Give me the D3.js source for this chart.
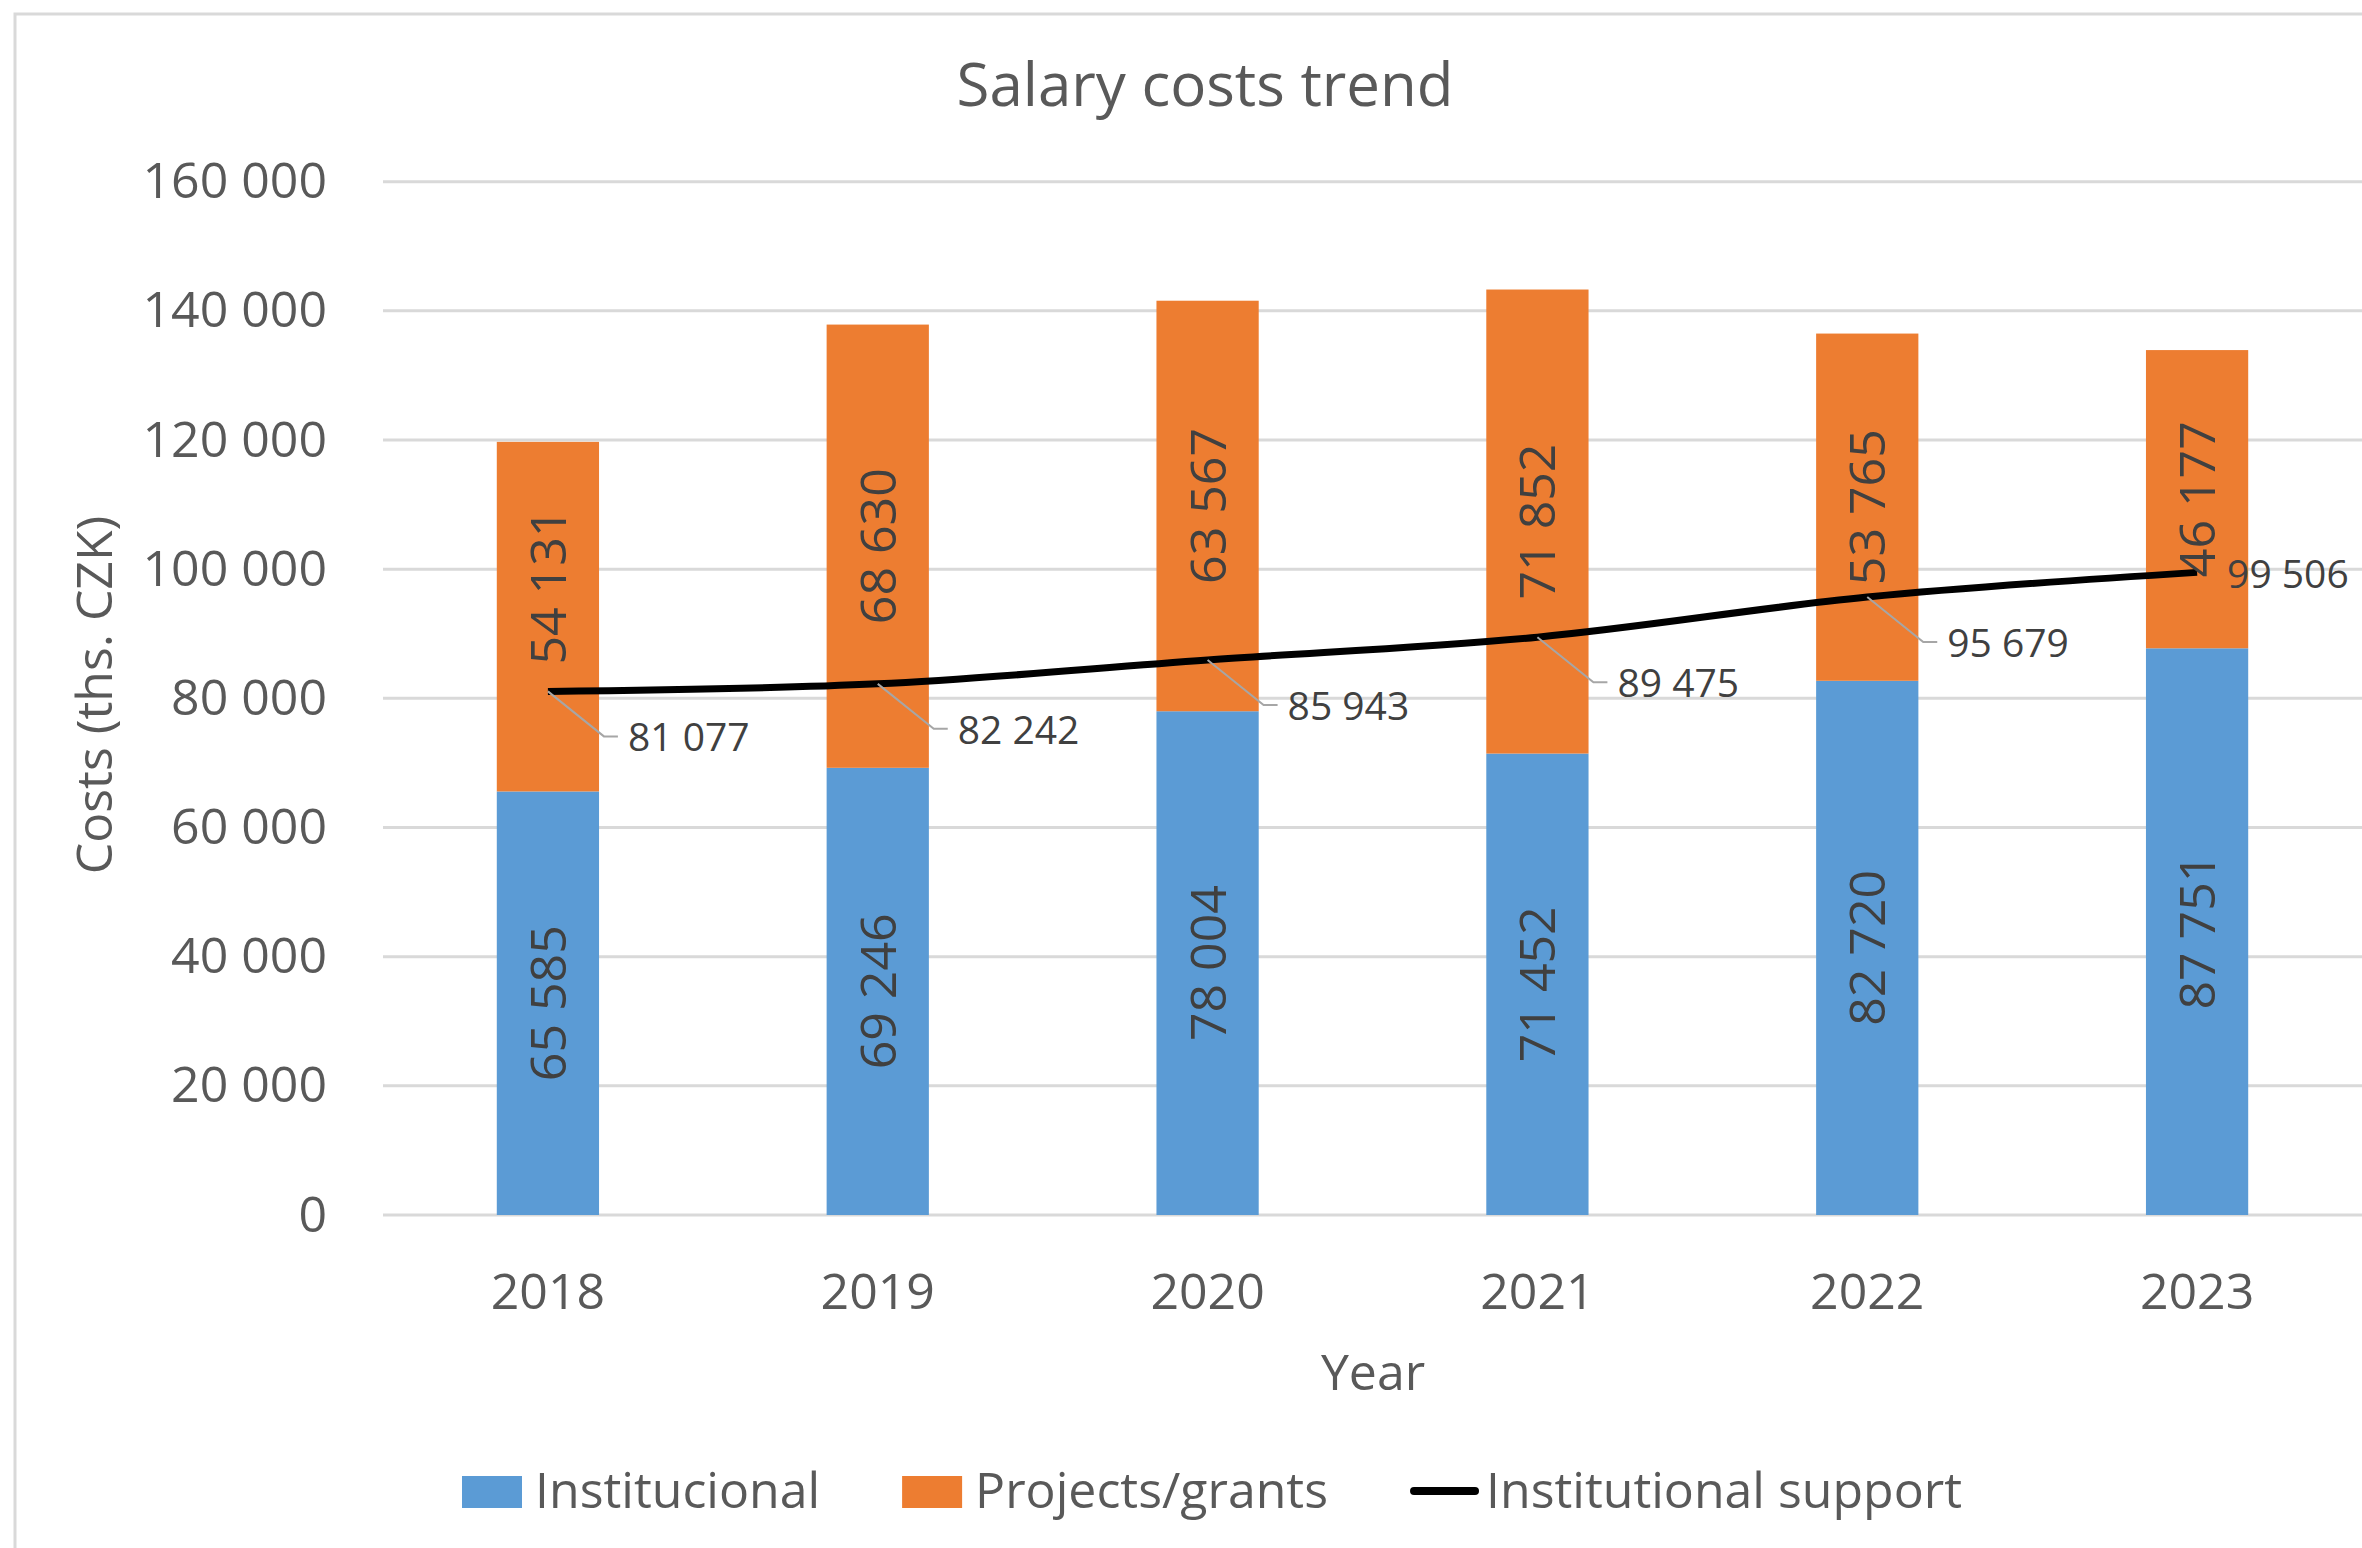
<!DOCTYPE html>
<html>
<head>
<meta charset="utf-8">
<script src="https://cdn.jsdelivr.net/npm/d3@7"></script>
<style>
  body { margin: 0; background: #fff; }
  text { font-family: "Open Sans", "Noto Sans", sans-serif; }
</style>
</head>
<body>
<div class="chart"></div>
<script>
const years = ["2018", "2019", "2020", "2021", "2022", "2023"];
const institucional = [65585, 69246, 78004, 71452, 82720, 87751];
const projects = [54131, 68630, 63567, 71852, 53765, 46177];
const support = [81077, 82242, 85943, 89475, 95679, 99506];
const y_ticks = [0, 20000, 40000, 60000, 80000, 100000, 120000, 140000, 160000];

// the 2018 projects label was moved up a bit in the original
const proj_label_nudge = [-30, 0, 0, 0, 0, 0];

const width = 2362;
const height = 1548;
const blue = "#5b9bd5";
const orange = "#ed7d31";
const grey_text = "#595959";
const label_text = "#404040";

const svg = d3.select(".chart").append("svg")
    .attr("width", width)
    .attr("height", height);

// chart frame
svg.append("rect")
    .attr("x", 15).attr("y", 14)
    .attr("width", 2500).attr("height", 1700)
    .attr("fill", "#fff")
    .attr("stroke", "#d9d9d9")
    .attr("stroke-width", 3);

const locale = d3.formatLocale({decimal: ",", thousands: " ", grouping: [3], currency: ["", ""]});
const fmt = locale.format(",d");

const x_scale = d3.scaleBand().domain(years).range([383, 2362]).paddingInner(0.69).paddingOuter(0.345);
const y_scale = d3.scaleLinear().domain([0, 160000]).range([1215, 181.7]);

// gridlines
svg.append("g").selectAll("line")
    .data(y_ticks)
    .join("line")
    .attr("x1", 383).attr("x2", width)
    .attr("y1", d => y_scale(d)).attr("y2", d => y_scale(d))
    .attr("stroke", "#d9d9d9")
    .attr("stroke-width", 3);

// y axis labels
const y_axis = svg.append("g")
    .attr("transform", "translate(340,0)")
    .call(d3.axisLeft(y_scale).tickValues(y_ticks).tickFormat(fmt).tickSize(0).tickPadding(13));
y_axis.select(".domain").remove();
y_axis.selectAll("text")
    .attr("font-size", 50)
    .attr("fill", grey_text)
    .attr("font-family", "Open Sans");

// x axis labels
const x_axis = svg.append("g")
    .attr("transform", "translate(0,1215)")
    .call(d3.axisBottom(x_scale).tickSize(0).tickPadding(58));
x_axis.select(".domain").remove();
x_axis.selectAll("text")
    .attr("font-size", 50)
    .attr("fill", grey_text)
    .attr("font-family", "Open Sans");

// stacked bars
const rows = years.map((y, i) => ({year: y, inst: institucional[i], proj: projects[i]}));
const stack = d3.stack().keys(["inst", "proj"])(rows);
const colors = {inst: blue, proj: orange};

const layers = svg.append("g").selectAll("g")
    .data(stack)
    .join("g")
    .attr("fill", d => colors[d.key]);

layers.selectAll("rect")
    .data(d => d)
    .join("rect")
    .attr("x", d => x_scale(d.data.year))
    .attr("width", x_scale.bandwidth())
    .attr("y", d => y_scale(d[1]))
    .attr("height", d => y_scale(d[0]) - y_scale(d[1]));

// line
const pts = years.map((y, i) => ({year: y, value: support[i]}));
const line = d3.line()
    .x(d => x_scale(d.year) + x_scale.bandwidth() / 2)
    .y(d => y_scale(d.value))
    .curve(d3.curveCardinal.tension(0));

svg.append("path")
    .datum(pts)
    .attr("d", line)
    .attr("fill", "none")
    .attr("stroke", "#000")
    .attr("stroke-width", 7)
    .attr("stroke-linejoin", "round");

// line labels with leader lines
const last = years.length - 1;
const leader = svg.append("g");
pts.forEach((d, i) => {
    const px = x_scale(d.year) + x_scale.bandwidth() / 2;
    const py = y_scale(d.value);
    if (i < last) {
        leader.append("polyline")
            .attr("points", [[px, py], [px + 56, py + 45], [px + 70, py + 45]].join(" "))
            .attr("fill", "none")
            .attr("stroke", "#a6a6a6")
            .attr("stroke-width", 2);
        leader.append("text")
            .attr("x", px + 80).attr("y", py + 46)
            .attr("dy", "0.36em")
            .attr("font-size", 39)
            .attr("fill", label_text)
            .text(fmt(d.value));
    } else {
        leader.append("text")
            .attr("x", px + 30).attr("y", py + 2)
            .attr("dy", "0.36em")
            .attr("font-size", 39)
            .attr("fill", label_text)
            .text(fmt(d.value));
    }
});

// bar labels (rotated)
stack.forEach(layer => {
    svg.append("g").selectAll("text")
        .data(layer)
        .join("text")
        .attr("transform", (d, i) => {
            const nudge = layer.key === "proj" ? proj_label_nudge[i] : 0;
            return "translate(" + (x_scale(d.data.year) + x_scale.bandwidth() / 2) + "," + (y_scale((d[0] + d[1]) / 2) + nudge) + ") rotate(-90)";
        })
        .attr("text-anchor", "middle")
        .attr("dy", "0.36em")
        .attr("font-size", 50)
        .attr("fill", label_text)
        .text(d => fmt(d[1] - d[0]));
});

// titles
svg.append("text")
    .attr("x", 1205).attr("y", 106)
    .attr("text-anchor", "middle")
    .attr("font-size", 60)
    .attr("fill", grey_text)
    .text("Salary costs trend");

svg.append("text")
    .attr("x", 1373).attr("y", 1390)
    .attr("text-anchor", "middle")
    .attr("font-size", 50)
    .attr("fill", grey_text)
    .text("Year");

svg.append("text")
    .attr("transform", "translate(112,695) rotate(-90)")
    .attr("text-anchor", "middle")
    .attr("font-size", 50)
    .attr("fill", grey_text)
    .text("Costs (ths. CZK)");

// legend
const legend_items = [
    {name: "Institucional", type: "rect", color: blue},
    {name: "Projects/grants", type: "rect", color: orange},
    {name: "Institutional support", type: "line", color: "#000"}
];
const legend = svg.append("g");
let lx = 0;
legend_items.forEach((d, i) => {
    const g = legend.append("g").attr("transform", "translate(" + lx + ",0)");
    let mw;
    if (d.type === "rect") {
        g.append("rect").attr("x", 0).attr("y", 1476).attr("width", 60).attr("height", 32).attr("fill", d.color);
        mw = 73;
    } else {
        g.append("line").attr("x1", 4).attr("x2", 65).attr("y1", 1491).attr("y2", 1491)
            .attr("stroke", d.color).attr("stroke-width", 8).attr("stroke-linecap", "round");
        mw = 76;
    }
    const t = g.append("text")
        .attr("x", mw).attr("y", 1508)
        .attr("font-size", 50)
        .attr("fill", grey_text)
        .text(d.name);
    lx += mw + t.node().getComputedTextLength() + 82;
});
const legend_w = lx - 82;
legend.attr("transform", "translate(" + (1212 - legend_w / 2) + ",0)");
</script>
</body>
</html>
